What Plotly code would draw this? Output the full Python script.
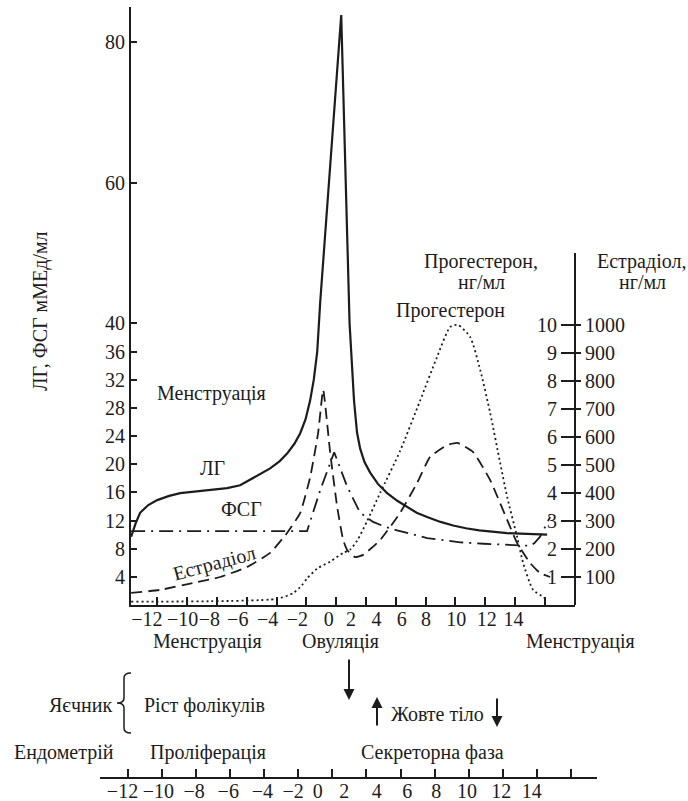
import plotly.graph_objects as go

W, H = 688, 801

# ---- hormone curves (day of cycle relative to LH peak) ----
lh_day = [-13.75, -13.45, -13.15, -12.6, -12.0, -11.2, -10.46, -9.12, -7.31, -6.44, -5.57, -5.0,
          -4.43, -3.8, -3.29, -2.8, -2.41, -2.05, -1.74, -1.5, -1.27, -1.07, 0.34, 0.9, 1.2, 1.4,
          1.61, 1.9, 2.28, 2.8, 3.42, 4.1, 4.76, 5.4, 6.1, 7.0, 7.85, 8.7, 9.6, 10.5, 11.47,
          12.8, 14.15]
lh_val = [9.7, 11.6, 13.1, 14.2, 14.9, 15.5, 15.9, 16.2, 16.6, 17.0, 18.0, 18.7,
          19.4, 20.4, 21.5, 22.9, 24.4, 26.4, 29.1, 32.0, 36.0, 43.0, 83.8, 40.0, 29.0, 24.5,
          22.2, 20.3, 18.8, 17.2, 15.9, 14.8, 13.9, 13.1, 12.5, 11.8, 11.3, 10.9, 10.6, 10.4, 10.2,
          10.1, 10.0]

fsh_day = [-13.75, -1.95, -1.07, -0.13, 0.74, 1.61, 2.48, 3.3, 4.09, 5.1, 6.1, 7.2, 8.32, 9.9,
           11.47, 12.5, 13.01, 13.3, 13.68, 14.35]
fsh_val = [10.5, 10.5, 16.3, 21.7, 16.8, 13.1, 11.8, 11.1, 10.6, 10.0, 9.5, 9.2, 8.9, 8.7,
           8.5, 8.4, 8.4, 8.8, 9.7, 12.5]

estr_day = [-13.75, -11.8, -9.59, -7.78, -5.97, -4.43, -3.29, -2.41, -1.74, -1.21, -0.87, -0.4,
            0.07, 0.47, 0.74, 1.27, 1.81, 2.95, 4.29, 5.43, 6.3, 7.44, 8.12, 9.19, 10.33, 11.47,
            12.14, 13.01, 13.68, 14.35]
estr_val = [43, 54, 79, 100, 136, 186, 257, 329, 457, 614, 768, 543,
            350, 232, 196, 171, 179, 232, 329, 436, 529, 571, 579, 546, 446, 304,
            221, 150, 114, 100]

prog_day = [-13.75, -3.96, -2.88, -2.3, -1.95, -1.27, -0.4, 0.47, 0.94, 1.41, 2.08, 2.95, 4.29,
            5.63, 6.77, 7.65, 8.18, 8.99, 9.66, 10.33, 11.0, 11.47, 12.14, 12.54, 13.21, 13.88, 14.15]
prog_val = [0.12, 0.22, 0.43, 0.7, 0.95, 1.3, 1.55, 1.86, 1.98, 2.3, 3.0, 4.0, 5.5,
            7.3, 8.86, 9.93, 10.0, 9.57, 8.4, 6.86, 5.07, 3.86, 2.43, 1.5, 0.54, 0.29, 0.18]

# ---- axis ticks and labels ----
lhfsh_ticks = [4, 8, 12, 16, 20, 24, 28, 32, 36, 40, 60, 80]
prog_ticks = [1, 2, 3, 4, 5, 6, 7, 8, 9, 10]
estr_ticks = [100, 200, 300, 400, 500, 600, 700, 800, 900, 1000]
day_marks = [-12, -10, -8, -6, -4, -2, 0, 2, 4, 6, 8, 10, 12, 14]
day_text = ["\u221212", "\u221210", "\u22128", "\u22126", "\u22124", "\u22122", "0",
            "2", "4", "6", "8", "10", "12", "14"]
day_text_pos_top = [-12.7, -10.3, -8.5, -6.6, -4.6, -2.6, -0.5, 1.0, 2.7, 4.4, 6.03, 8.05, 10.1, 11.9]
day_text_pos_low = [-12.3, -10.2, -8.1, -6.1, -4.1, -2.3, -0.85, 0.7, 2.6, 4.4, 6.1, 7.9, 9.9, 11.7]

FONT = "Liberation Serif"
INK = "#1c1c1c"
FS = 20


def px(xp, yp):
    return xp / W, (H - yp) / H


fig = go.Figure()

fig.add_trace(go.Scatter(x=lh_day, y=lh_val, mode="lines", xaxis="x", yaxis="y",
                         line=dict(color=INK, width=2.2), name="ЛГ"))
fig.add_trace(go.Scatter(x=fsh_day, y=fsh_val, mode="lines", xaxis="x", yaxis="y",
                         line=dict(color=INK, width=1.8, dash="14px,6px,2px,6px"), name="ФСГ"))
fig.add_trace(go.Scatter(x=prog_day, y=prog_val, mode="lines", xaxis="x", yaxis="y2",
                         line=dict(color=INK, width=1.8, dash="2px,3px", shape="spline",
                                   smoothing=0.6), name="Прогестерон"))
fig.add_trace(go.Scatter(x=estr_day, y=estr_val, mode="lines", xaxis="x", yaxis="y3",
                         line=dict(color=INK, width=1.8, dash="11px,6px", shape="spline",
                                   smoothing=0.4), name="Естрадіол"))

# lower time-line axis carries no data of its own; blank traces anchor the label axes
fig.add_trace(go.Scatter(x=[None], y=[None], xaxis="x2", yaxis="y4", showlegend=False))
fig.add_trace(go.Scatter(x=[None], y=[None], xaxis="x4", yaxis="y4", showlegend=False))
fig.add_trace(go.Scatter(x=[None], y=[None], xaxis="x3", yaxis="y", showlegend=False))

x0, x1 = 131 / W, 575 / W
y_bot = (H - 605) / H
y_top = (H - 7) / H
y2_top = (H - 253) / H

axis_font = dict(family=FONT, size=FS, color=INK)

fig.update_layout(
    width=W, height=H,
    margin=dict(l=0, r=0, t=0, b=0),
    paper_bgcolor="white", plot_bgcolor="rgba(0,0,0,0)",
    showlegend=False,
    font=axis_font,
    xaxis=dict(domain=[x0, x1], range=[-13.76, 16.02], anchor="y",
               showline=True, linecolor=INK, linewidth=2, showgrid=False, zeroline=False,
               tickmode="array", tickvals=day_marks, ticktext=[""] * len(day_marks),
               ticks="inside", ticklen=8, tickwidth=1.5, tickcolor=INK),
    xaxis3=dict(overlaying="x", anchor="y", range=[-13.76, 16.02], side="bottom",
                showline=False, showgrid=False, zeroline=False, ticks="", tickangle=0,
                tickmode="array", tickvals=day_text_pos_top, ticktext=day_text,
                tickfont=axis_font),
    yaxis=dict(domain=[y_bot, y_top], range=[0, 84.94], anchor="x",
               showline=True, linecolor=INK, linewidth=2, showgrid=False, zeroline=False,
               tickmode="array", tickvals=lhfsh_ticks, ticks="inside", ticklen=6,
               tickwidth=1.5, tickcolor=INK, tickfont=axis_font),
    yaxis2=dict(domain=[y_bot, y2_top], range=[0, 12.57], anchor="free", position=x1,
                side="left", showline=True, linecolor=INK, linewidth=2, showgrid=False,
                zeroline=False, tickmode="array", tickvals=prog_ticks, ticks="outside",
                ticklen=13, tickwidth=1.5, tickcolor=INK, tickfont=axis_font),
    yaxis3=dict(overlaying="y2", range=[0, 1257], anchor="free", position=x1, side="right",
                showline=False, showgrid=False, zeroline=False, tickmode="array",
                tickvals=estr_ticks, ticks="outside", ticklen=5, tickwidth=1.5,
                tickcolor=INK, tickfont=axis_font),
    xaxis2=dict(domain=[100 / W, 597 / W], range=[-13.62, 15.52], anchor="y4",
                showline=True, linecolor=INK, linewidth=1.5, showgrid=False, zeroline=False,
                tickmode="array", tickvals=day_marks, ticktext=[""] * len(day_marks),
                ticks="inside", ticklen=8, tickwidth=2, tickcolor=INK),
    xaxis4=dict(overlaying="x2", anchor="y4", range=[-13.62, 15.52], side="bottom",
                showline=False, showgrid=False, zeroline=False, ticks="", tickangle=0,
                tickmode="array", tickvals=day_text_pos_low, ticktext=day_text,
                tickfont=axis_font),
    yaxis4=dict(domain=[(H - 777) / H, (H - 770) / H], visible=False, range=[0, 1]),
)

notes = [
    ("ЛГ, ФСГ мМЕд/мл", 41, 311, -90),
    ("Менструація", 211, 393, 0),
    ("ЛГ", 212, 468, 0),
    ("ФСГ", 241, 509, 0),
    ("Естрадіол", 214, 563, -15),
    ("Прогестерон,", 481, 261, 0),
    ("нг/мл", 481, 282, 0),
    ("Естрадіол,", 641, 261, 0),
    ("нг/мл", 642, 282, 0),
    ("Прогестерон", 450, 311, 0),
    ("Менструація", 207, 641, 0),
    ("Овуляція", 340, 641, 0),
    ("Менструація", 580, 641, 0),
    ("Яєчник", 80, 705, 0),
    ("Ріст фолікулів", 205, 705, 0),
    ("Жовте тіло", 437, 714, 0),
    ("Ендометрій", 64, 752, 0),
    ("Проліферація", 208, 752, 0),
    ("Секреторна фаза", 432, 752, 0),
]
for text, xp, yp, ang in notes:
    ax_, ay_ = px(xp, yp)
    fig.add_annotation(x=ax_, y=ay_, xref="paper", yref="paper", text=text, showarrow=False,
                       textangle=ang, font=axis_font, xanchor="center", yanchor="middle")

# arrows: ovulation, corpus luteum formation and regression
for hx, hy, ty in [(349, 700, 658), (377, 697, 727), (497, 727, 697)]:
    ax_, ay_ = px(hx, hy)
    fig.add_annotation(x=ax_, y=ay_, xref="paper", yref="paper", text="", showarrow=True,
                       ax=0, ay=ty - hy, arrowhead=2, arrowsize=1.1, arrowwidth=2,
                       arrowcolor=INK)

# curly brace next to "Яєчник"
p = {
    "a": px(131, 673), "b": px(124, 678), "c": px(124, 698), "d": px(117, 703),
    "e": px(124, 708), "f": px(124, 728), "g": px(131, 733),
    "q1": px(124, 673), "q2": px(124, 703), "q3": px(124, 733),
}
brace = (f"M {p['a'][0]},{p['a'][1]} Q {p['q1'][0]},{p['q1'][1]} {p['b'][0]},{p['b'][1]} "
         f"L {p['c'][0]},{p['c'][1]} Q {p['q2'][0]},{p['q2'][1]} {p['d'][0]},{p['d'][1]} "
         f"Q {p['q2'][0]},{p['q2'][1]} {p['e'][0]},{p['e'][1]} "
         f"L {p['f'][0]},{p['f'][1]} Q {p['q3'][0]},{p['q3'][1]} {p['g'][0]},{p['g'][1]}")
fig.add_shape(type="path", path=brace, xref="paper", yref="paper",
              line=dict(color=INK, width=1.5))

fig.write_html("out.html")
